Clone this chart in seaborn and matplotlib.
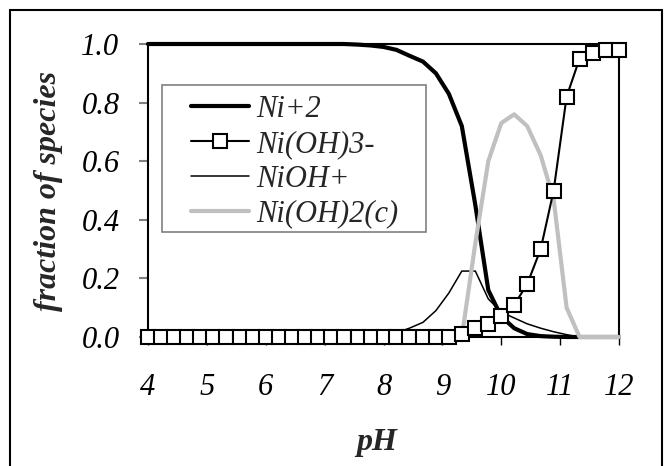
import matplotlib
matplotlib.use("Agg")
import matplotlib.pyplot as plt
from matplotlib.patches import Rectangle
import seaborn as sns
import pandas as pd

# pH grid of the speciation calculation
ph = [4.00, 4.22, 4.44, 4.67, 4.89, 5.11, 5.33, 5.56, 5.78, 6.00,
      6.22, 6.44, 6.67, 6.89, 7.11, 7.33, 7.56, 7.78, 8.00, 8.22,
      8.44, 8.67, 8.89, 9.11, 9.33, 9.56, 9.78, 10.00, 10.22, 10.44,
      10.67, 10.89, 11.11, 11.33, 11.56, 11.78, 12.00]

# fraction of total nickel present as each species
ni2 = [1.0, 1.0, 1.0, 1.0, 1.0, 1.0, 1.0, 1.0, 1.0, 1.0,
       1.0, 1.0, 1.0, 1.0, 1.0, 1.0, 0.998, 0.995, 0.99, 0.98,
       0.96, 0.94, 0.90, 0.83, 0.72, 0.45, 0.16, 0.07, 0.03, 0.01,
       0.003, 0.001, 0.0, 0.0, 0.0, 0.0, 0.0]
nioh3 = [0.0] * 24 + [0.01, 0.03, 0.045, 0.07, 0.11, 0.18, 0.30, 0.50,
                      0.82, 0.95, 0.97, 0.98, 0.98]
nioh = [0.0] * 17 + [0.002, 0.005, 0.015, 0.03, 0.05, 0.09, 0.15, 0.225,
                     0.225, 0.13, 0.085, 0.065, 0.045, 0.03, 0.018, 0.008,
                     0.0, 0.0, 0.0, 0.0]
nioh2c = [0.0] * 25 + [0.32, 0.60, 0.73, 0.76, 0.72, 0.62, 0.47, 0.10,
                       0.0, 0.0, 0.0, 0.0]

labels = ["Ni+2", "Ni(OH)3-", "NiOH+", "Ni(OH)2(c)"]
x_ticks = [4, 5, 6, 7, 8, 9, 10, 11, 12]
y_ticks = [0.0, 0.2, 0.4, 0.6, 0.8, 1.0]

df = pd.DataFrame({"pH": ph, "Ni+2": ni2, "Ni(OH)3-": nioh3,
                   "NiOH+": nioh, "Ni(OH)2(c)": nioh2c})

sns.set_style("ticks")
plt.rcParams["font.family"] = ["Liberation Serif", "DejaVu Serif"]
plt.rcParams["font.style"] = "italic"

fig = plt.figure(figsize=(6.67, 4.66), dpi=100)
ax = fig.add_axes([148 / 667, 1 - 337 / 466, (619 - 148) / 667, (337 - 44) / 466])

sns.lineplot(data=df, x="pH", y="Ni+2", ax=ax, color="black", lw=3.0,
             label=labels[0], clip_on=False, zorder=3)
sns.lineplot(data=df, x="pH", y="NiOH+", ax=ax, color="black", lw=1.1,
             label=labels[2], clip_on=False, zorder=3)
sns.lineplot(data=df, x="pH", y="Ni(OH)2(c)", ax=ax, color="#c0c0c0", lw=3.0,
             label=labels[3], clip_on=False, zorder=4)
sns.lineplot(data=df, x="pH", y="Ni(OH)3-", ax=ax, color="black", lw=1.5,
             marker="s", markersize=9.4, markerfacecolor="white",
             markeredgecolor="black", markeredgewidth=1.5,
             label=labels[1], clip_on=False, zorder=6)

ax.set_xlim(4, 12)
ax.set_ylim(0, 1)
ax.set_xticks(x_ticks)
ax.set_xticklabels([str(v) for v in x_ticks])
ax.set_yticks(y_ticks)
ax.set_yticklabels([f"{v:.1f}" for v in y_ticks])

for side in ["left", "right", "top", "bottom"]:
    ax.spines[side].set_visible(True)
    ax.spines[side].set_color("black")
    ax.spines[side].set_linewidth(1.5)

ax.tick_params(axis="y", direction="out", length=6.5, width=1.5,
               color="#808080", pad=14, labelsize=22, labelcolor="black")
ax.tick_params(axis="x", direction="out", length=6, width=1,
               color="black", pad=20, labelsize=22, labelcolor="black")

ax.set_xlabel("pH", fontsize=23, fontweight="bold", style="italic")
ax.set_ylabel("fraction of species", fontsize=23, fontweight="bold",
              style="italic")
ax.xaxis.set_label_coords((377 - 148) / 471, (337 - 428) / 293)
ax.yaxis.set_label_coords((63 - 148) / 471, 0.5)

# legend box with grey border
ax.add_patch(Rectangle(((162 - 148) / 471, (337 - 232) / 293),
                       (426 - 162) / 471, (232 - 85) / 293,
                       transform=ax.transAxes, facecolor="white",
                       edgecolor="#808080", lw=1.2, zorder=7, clip_on=False))
handles, labs = ax.get_legend_handles_labels()
order = [labs.index(l) for l in labels]
leg = ax.legend([handles[i] for i in order], [labs[i] for i in order],
                loc="upper left",
                bbox_to_anchor=((191 - 148) / 471, (337 - 95) / 293),
                frameon=False, borderpad=0, borderaxespad=0,
                handlelength=1.9, handletextpad=0.25, labelspacing=0.19,
                fontsize=22)
leg.set_zorder(8)

# outer chart-area border
fig.patches.append(Rectangle((10 / 667, -0.05), (662 - 10) / 667,
                             1 - 10 / 466 + 0.05, transform=fig.transFigure,
                             fill=False, edgecolor="black", lw=1.5))

fig.savefig("out.png", dpi=100)
